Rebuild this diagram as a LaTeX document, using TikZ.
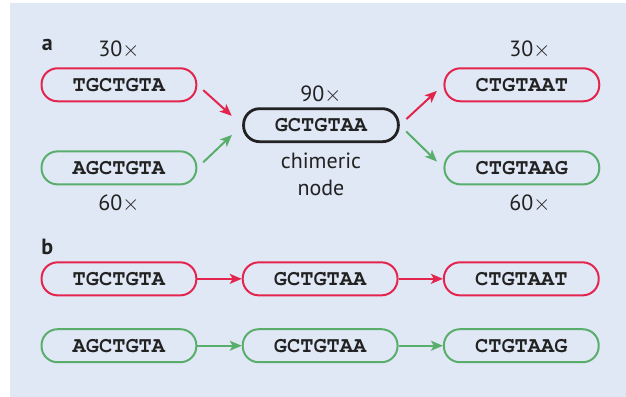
\documentclass[tikz,border=0pt]{standalone}
\usepackage[T1,TU]{fontenc}
\usepackage{fontspec}
\setmainfont{PT Sans}
\usetikzlibrary{arrows.meta, positioning}
\definecolor{seqred}{HTML}{E3244C}
\definecolor{seqgreen}{HTML}{5AAE6C}
\definecolor{panelbg}{HTML}{E0E8F6}
\definecolor{inkblack}{HTML}{222222}
\newcommand{\seqfont}{\fontencoding{T1}\fontfamily{pcr}\fontseries{b}\fontsize{11}{13}\selectfont}

\begin{document}
\begin{tikzpicture}[>={Stealth[length=6pt,width=5pt,inset=1.5pt]},
    seq/.style={draw, rounded corners=8pt, line width=1pt, minimum width=2.72cm,
      minimum height=0.58cm, inner sep=0pt, text=inkblack, font=\seqfont},
    red seq/.style={seq, draw=seqred},
    green seq/.style={seq, draw=seqgreen},
    chim seq/.style={seq, draw=inkblack, line width=1.4pt},
    lbl/.style={text=inkblack, font=\fontsize{11}{13.5}\selectfont},
    panel/.style={text=inkblack, font=\bfseries\fontsize{11}{13}\selectfont},
    red arrow/.style={->, draw=seqred, fill=seqred, line width=1pt},
    green arrow/.style={->, draw=seqgreen, fill=seqgreen, line width=1pt}]

    \useasboundingbox (0,0) rectangle (11.0,-6.976);
    \fill[panelbg] (0.176,-0.053) rectangle (11.0,-6.976);

    % a
    \node[panel] (PanelA) at (0.83,-0.79) {a};
    \node[red seq] (RedIn) at (2.09,-1.49) {TGCTGTA};
    \node[green seq] (GreenIn) at (2.09,-2.95) {AGCTGTA};
    \node[chim seq] (Chim) at (5.64,-2.20) {GCTGTAA};
    \node[red seq] (RedOut) at (9.17,-1.49) {CTGTAAT};
    \node[green seq] (GreenOut) at (9.17,-2.95) {CTGTAAG};

    \node[lbl, above=1pt of RedIn] (CountRedIn) {30$\times$};
    \node[lbl, below=1pt of GreenIn] (CountGreenIn) {60$\times$};
    \node[lbl, above=-1.5pt of Chim] (CountChim) {90$\times$};
    \node[lbl, below=1.5pt of Chim, align=center] (ChimText) {chimeric\\node};
    \node[lbl, above=1pt of RedOut, xshift=4pt] (CountRedOut) {30$\times$};
    \node[lbl, below=1pt of GreenOut, xshift=4pt] (CountGreenOut) {60$\times$};

    \draw[red arrow, shorten <=4pt, shorten >=7pt] (RedIn.east) -- (Chim.west);
    \draw[green arrow, shorten <=4pt, shorten >=7pt] (GreenIn.east) -- (Chim.west);
    \draw[red arrow, shorten <=4.5pt, shorten >=4.5pt] (Chim.east) -- (RedOut.west);
    \draw[green arrow, shorten <=4.5pt, shorten >=4.5pt] (Chim.east) -- (GreenOut.west);

    % b
    \node[panel] (PanelB) at (0.83,-4.34) {b};
    \node[red seq] (RedB1) at (2.09,-4.90) {TGCTGTA};
    \node[red seq, right=0.78cm of RedB1] (RedB2) {GCTGTAA};
    \node[red seq, right=0.78cm of RedB2] (RedB3) {CTGTAAT};
    \node[green seq, below=0.56cm of RedB1] (GreenB1) {AGCTGTA};
    \node[green seq, right=0.78cm of GreenB1] (GreenB2) {GCTGTAA};
    \node[green seq, right=0.78cm of GreenB2] (GreenB3) {CTGTAAG};

    \draw[red arrow] (RedB1) -- (RedB2);
    \draw[red arrow] (RedB2) -- (RedB3);
    \draw[green arrow] (GreenB1) -- (GreenB2);
    \draw[green arrow] (GreenB2) -- (GreenB3);
  \end{tikzpicture}
\end{document}
